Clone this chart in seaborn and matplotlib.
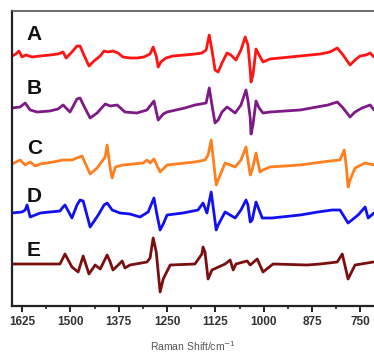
import matplotlib
matplotlib.use("Agg")
import matplotlib.pyplot as plt
from matplotlib.ticker import MultipleLocator
import pandas as pd
import seaborn as sns

# espectros (numero de onda em cm-1, intensidade relativa)
nomes = ["A", "B", "C", "D", "E"]
cores = ["#ff1414", "#7d1a86", "#ff7f1f", "#1010f0", "#7a0f10"]
deslocamentos = [250, 198, 143, 93, 42]

onda_a = [1651, 1641, 1633, 1625, 1615, 1599, 1578, 1553, 1532, 1519, 1511, 1496,
          1483, 1475, 1465, 1452, 1439, 1423, 1413, 1403, 1390, 1377, 1364, 1346,
          1328, 1310, 1294, 1286, 1278, 1273, 1266, 1253, 1235, 1204, 1178, 1160,
          1149, 1141, 1134, 1126, 1118, 1108, 1095, 1085, 1072, 1059, 1048, 1041,
          1035, 1033, 1028, 1020, 1012, 1002, 984, 958, 906, 854, 829, 810, 795,
          777, 764, 751, 735, 725, 715]
int_a = [0, 2, 5, -1, 1, -1, 0, 1, 2, 4, -2, 4,
         10, 10, 1, -10, -5, 0, 5, 4, 5, 3, -1, -2,
         -2, -1, 2, 9, 0, -11, -6, -2, 0, 1, 2, 3,
         6, 21, 6, -14, -16, -7, 3, 1, -4, 6, 19, 11,
         -14, -26, -19, 7, 1, -6, -3, -2, 0, 2, 4, 8, 1,
         -9, -4, 0, 1, 3, -1]

onda_b = [1651, 1630, 1617, 1604, 1586, 1553, 1532, 1519, 1501, 1483, 1475, 1465,
          1449, 1431, 1410, 1397, 1379, 1359, 1328, 1302, 1284, 1273, 1260, 1250,
          1204, 1178, 1149, 1141, 1134, 1126, 1118, 1108, 1095, 1074, 1059, 1046,
          1041, 1035, 1033, 1028, 1020, 1012, 1002, 984, 906, 834, 810, 795, 777,
          764, 746, 725, 715]
int_b = [0, 1, 5, -2, -4, -3, -1, 3, -4, 9, 10, 2,
         -10, -5, 4, 2, 3, -4, -5, -2, 7, -12, -6, -4,
         0, 3, 5, 20, 3, -15, -12, -4, 1, -5, 3, 18,
         8, -10, -26, -17, 7, 0, -5, -4, -2, 3, 6, 0, -9,
         -4, 0, 3, -2]

onda_c = [1651, 1630, 1617, 1604, 1591, 1578, 1545, 1519, 1496, 1483, 1470, 1449,
          1431, 1410, 1405, 1397, 1392, 1384, 1364, 1312, 1302, 1294, 1284, 1268,
          1250, 1178, 1152, 1144, 1136, 1123, 1118, 1100, 1074, 1059, 1046, 1041,
          1035, 1030, 1020, 1010, 1002, 984, 906, 829, 803, 792, 787, 782, 777,
          764, 738, 715]
int_c = [-1, 3, -2, 1, -3, -1, 1, 3, 3, 5, 7, -11,
         -5, 6, 18, -5, -15, -4, -2, 0, 3, 0, 4, -9,
         -2, 1, 3, 8, 23, -22, -17, 0, -4, 3, 16, 3,
         -12, -7, 10, -9, -7, -4, -2, 2, 3, 13, -2, -24, -17,
         -5, 0, -2]

onda_d = [1651, 1625, 1617, 1612, 1604, 1578, 1553, 1527, 1519, 1514, 1496, 1483,
          1475, 1467, 1449, 1428, 1413, 1405, 1392, 1372, 1346, 1320, 1299, 1284,
          1276, 1268, 1260, 1250, 1209, 1170, 1157, 1147, 1136, 1123, 1118, 1100,
          1074, 1059, 1046, 1041, 1035, 1030, 1020, 1012, 1004, 979, 906, 860, 823,
          803, 782, 756, 738, 730, 715]
int_d = [0, 1, 3, 8, -4, 0, 1, 2, 6, 8, -5, 8,
         13, 12, -14, -2, 8, 10, 3, 0, -1, -4, 1, 15,
         -2, -17, -11, -2, 0, 3, 10, 0, 21, -17, -12, 1,
         -5, 3, 13, 8, -9, -7, 11, 3, -5, -5, -2, 1, 3,
         3, -10, -2, 6, -5, 0]

onda_e = [1651, 1604, 1553, 1527, 1514, 1496, 1480, 1467, 1452, 1436, 1423, 1405,
          1397, 1390, 1379, 1366, 1359, 1346, 1302, 1294, 1286, 1278, 1268, 1260,
          1242, 1178, 1160, 1157, 1152, 1144, 1134, 1100, 1087, 1079, 1072, 1043,
          1035, 1017, 1002, 976, 888, 854, 810, 797, 782, 764, 717]
int_e = [0, 0, 0, 0, 10, -3, -8, 8, -10, -1, -5, 9,
         2, -6, -2, 3, -4, -1, 2, 6, 26, 12, -28, -15,
         -1, 0, 10, 17, 12, -15, -6, 0, 4, -6, 0, 3,
         -1, 5, -8, 0, -1, 0, 2, 10, -15, -1, 2]

ondas = [onda_a, onda_b, onda_c, onda_d, onda_e]
intensidades = [int_a, int_b, int_c, int_d, int_e]

ticks_x = [1625, 1500, 1375, 1250, 1125, 1000, 875, 750]

linhas = []
for nome, desl, onda, inten in zip(nomes, deslocamentos, ondas, intensidades):
    for w, i in zip(onda, inten):
        linhas.append({"Amostra": nome, "Raman": w, "Sinal": i + desl})
dados = pd.DataFrame(linhas)

sns.set_style("white")
plt.rcParams["font.family"] = ["Liberation Sans", "DejaVu Sans"]

fig = plt.figure(figsize=(3.74, 3.56), dpi=100)
ax = fig.add_axes([12 / 374, 50 / 356, 1 - 12 / 374, 295 / 356])

sns.lineplot(
    data=dados,
    x="Raman",
    y="Sinal",
    hue="Amostra",
    palette=dict(zip(nomes, cores)),
    linewidth=2.0,
    legend=False,
    ax=ax
)

# letras das amostras
ajuste_letra = [21, 19, 15, 17, 14]
for nome, desl, aj in zip(nomes, deslocamentos, ajuste_letra):
    ax.text(1613, desl + aj, nome, fontsize=15, fontweight="bold",
            color="#111111", va="center", ha="left")

ax.set_xlim(1651, 715)
ax.set_ylim(0, 295)
ax.set_xticks(ticks_x)
ax.xaxis.set_minor_locator(MultipleLocator(62.5))
ax.set_yticks([])
ax.tick_params(axis="x", which="major", direction="out", length=4, width=1.4,
               labelsize=8.5, colors="#222222", pad=3, bottom=True)
ax.tick_params(axis="x", which="minor", direction="out", length=2.5, width=1.2,
               bottom=True)
for lbl in ax.get_xticklabels():
    lbl.set_fontweight("bold")
    lbl.set_color("#333333")

ax.spines["left"].set_linewidth(1.6)
ax.spines["left"].set_color("#222222")
ax.spines["bottom"].set_linewidth(1.6)
ax.spines["bottom"].set_color("#222222")
ax.spines["top"].set_linewidth(1.2)
ax.spines["top"].set_color("#555555")
ax.spines["right"].set_visible(False)

ax.set_xlabel("Raman Shift/cm$^{-1}$", fontsize=7.5, color="#555555", labelpad=8)
ax.set_ylabel("")

plt.savefig("out.png", dpi=100)
plt.close()
